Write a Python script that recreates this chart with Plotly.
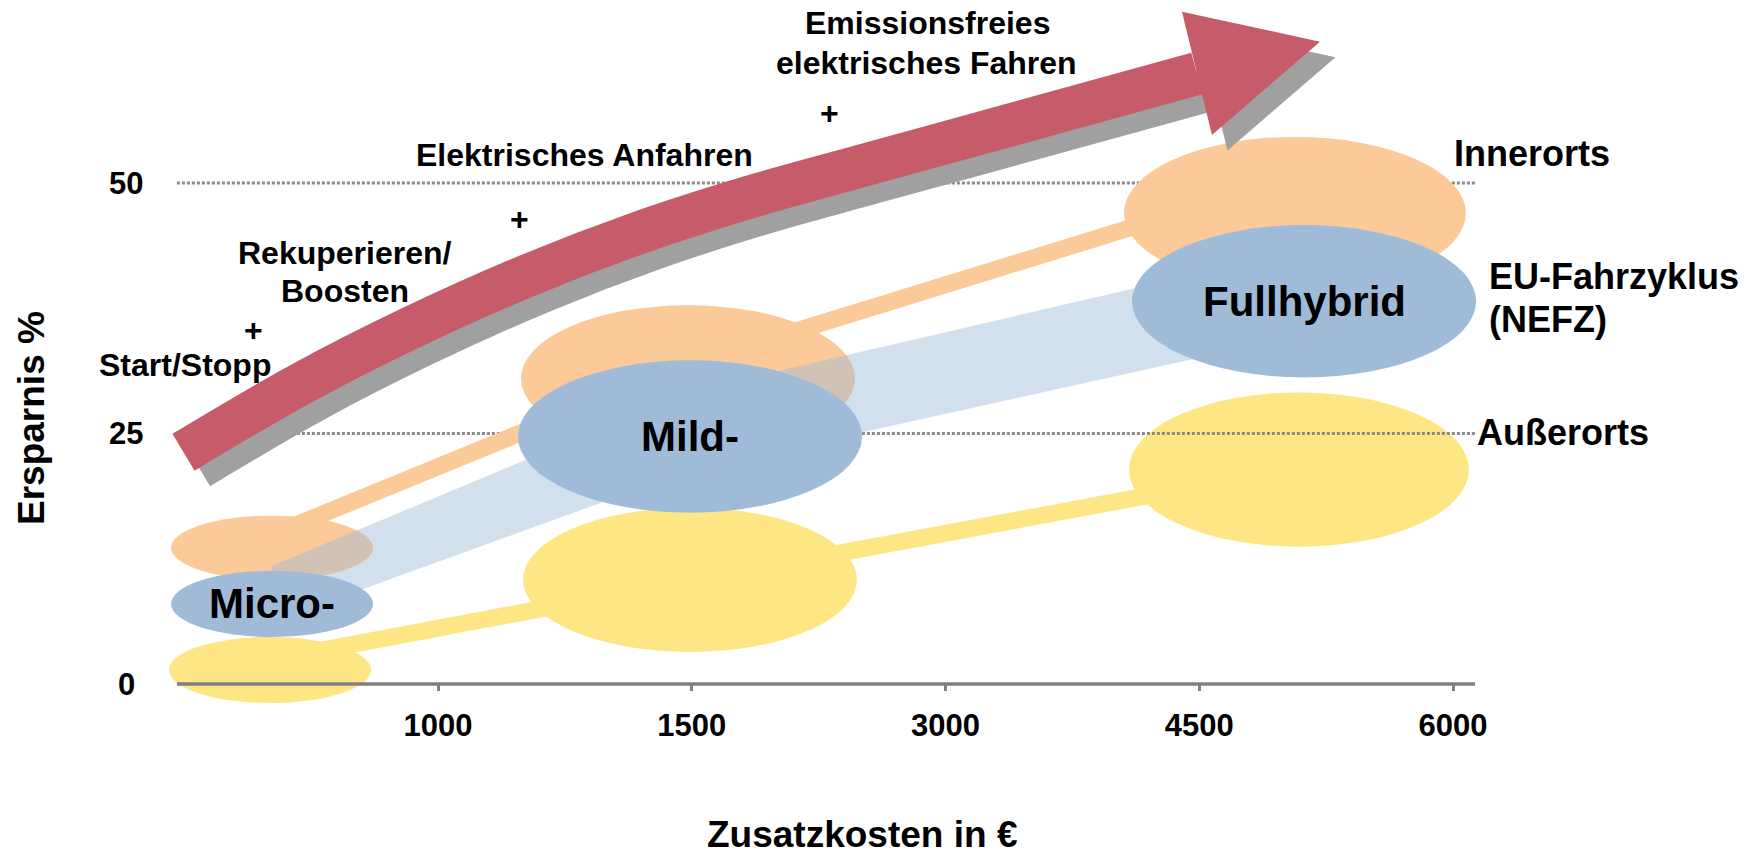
"""
Hybrid classes chart: savings vs. extra cost (Micro-, Mild-, Fullhybrid).
Single full-bleed subplot; the cost axis is drawn at y=0 with a free anchor.
"""

import plotly.graph_objects as go

# ── data ──────────────────────────────────────────────────────────────────────

COST_TICKS = [1, 2, 3, 4, 5]
COST_LABELS = ["1000", "1500", "3000", "4500", "6000"]
SAVING_TICKS = [0, 25, 50]
COST_AXIS_SPAN = [-0.029, 5.087]  # visible extent of the cost axis

HYBRID_CLASSES = ["Micro-", "Mild-", "Fullhybrid"]

# ellipse centres (x = cost axis position, y = Ersparnis %)
INNER_X = [0.346, 1.985, 4.377]
INNER_Y = [13.6, 30.5, 47.0]
EU_X = [0.346, 1.993, 4.413]
EU_Y = [8.0, 24.7, 38.2]
OUTER_X = [0.338, 1.993, 4.393]
OUTER_Y = [1.4, 10.4, 21.4]

# ellipse half-sizes (cost units / % units)
INNER_HW = [0.398, 0.658, 0.674]
INNER_HH = [3.2, 7.3, 7.6]
EU_HW = [0.398, 0.678, 0.678]
EU_HH = [3.3, 7.6, 7.6]
OUTER_HW = [0.398, 0.658, 0.670]
OUTER_HH = [3.3, 7.2, 7.7]

# links between the classes
INNER_LINK_Y = [14.9, 31.9, 50.6]
OUTER_LINK_Y = [2.4, 10.3, 21.6]
EU_BAND_TOP = [11.8, 29.2, 43.4]
EU_BAND_BOTTOM = [6.2, 21.3, 34.9]

# trend arrow (centre line + head)
ARROW_X = [-0.003, 0.456, 0.890, 1.355, 1.784, 2.237, 2.647, 3.333, 3.991]
ARROW_Y = [23.13, 29.91, 35.51, 40.79, 44.97, 48.67, 51.56, 56.33, 60.93]
ARROW_HEAD_X = [3.932, 4.476, 4.050]
ARROW_HEAD_Y = [67.1, 64.1, 54.8]

# ── style ─────────────────────────────────────────────────────────────────────

W, H = 1759, 854
X_RANGE = [-0.7261, 6.2059]
Y_RANGE = [-16.966, 68.263]

FONT = "Liberation Sans, Arial, sans-serif"
ORANGE = "#FCCA98"
BLUE = "#9FBBD8"
BAND = "rgba(159,187,216,0.47)"
YELLOW = "#FEE684"
RED = "#C65C69"
SHADOW = "#A0A0A0"
AXIS_GRAY = "#808080"
GRID_GRAY = "#8A8A8A"

LINK_WIDTH = 17
ARROW_WIDTH = 43
SHADOW_DX, SHADOW_DY = 0.061, -1.55  # ~15 px right / down


def _ellipse(cx, cy, hw, hh, color):
    return dict(
        type="circle", xref="x", yref="y", layer="below",
        x0=cx - hw, x1=cx + hw, y0=cy - hh, y1=cy + hh,
        fillcolor=color, line=dict(width=0),
    )


def _polyline(xs, ys, color):
    path = "M " + " L ".join(f"{x},{y}" for x, y in zip(xs, ys))
    return dict(
        type="path", xref="x", yref="y", layer="below", path=path,
        line=dict(color=color, width=LINK_WIDTH),
    )


def _text(fig, x, y, text, size, xanchor="center", angle=0):
    fig.add_annotation(
        x=x, y=y, xref="x", yref="y", text=text, showarrow=False,
        xanchor=xanchor, yanchor="middle", textangle=angle,
        font=dict(family=FONT, size=size, color="black", weight="bold"),
    )


shapes = []

# Außerorts (below the dotted grid lines)
shapes.append(_polyline(OUTER_X, OUTER_LINK_Y, YELLOW))
for cx, cy, hw, hh in zip(OUTER_X, OUTER_Y, OUTER_HW, OUTER_HH):
    shapes.append(_ellipse(cx, cy, hw, hh, YELLOW))

# dotted reference lines
for v in SAVING_TICKS[1:]:
    shapes.append(dict(
        type="line", xref="x", yref="y", layer="below",
        x0=COST_AXIS_SPAN[0], x1=COST_AXIS_SPAN[1], y0=v, y1=v,
        line=dict(color=GRID_GRAY, width=3.2, dash="3px,2px"),
    ))

# Innerorts
shapes.append(_polyline(INNER_X, INNER_LINK_Y, ORANGE))
for cx, cy, hw, hh in zip(INNER_X, INNER_Y, INNER_HW, INNER_HH):
    shapes.append(_ellipse(cx, cy, hw, hh, ORANGE))

# EU-Fahrzyklus band + ellipses
band_x = EU_X + EU_X[::-1]
band_y = EU_BAND_TOP + EU_BAND_BOTTOM[::-1]
band_path = "M " + " L ".join(f"{x},{y}" for x, y in zip(band_x, band_y)) + " Z"
shapes.append(dict(
    type="path", xref="x", yref="y", layer="below", path=band_path,
    fillcolor=BAND, line=dict(width=0),
))
for cx, cy, hw, hh in zip(EU_X, EU_Y, EU_HW, EU_HH):
    shapes.append(_ellipse(cx, cy, hw, hh, BLUE))

# cost axis line on top of everything
shapes.append(dict(
    type="line", xref="x", yref="y", layer="above",
    x0=COST_AXIS_SPAN[0], x1=COST_AXIS_SPAN[1], y0=0, y1=0,
    line=dict(color=AXIS_GRAY, width=3.6),
))

fig = go.Figure()

# arrow: shadow first, then the red arrow
for dx, dy, color in [(SHADOW_DX, SHADOW_DY, SHADOW), (0, 0, RED)]:
    fig.add_trace(go.Scatter(
        x=[x + dx for x in ARROW_X], y=[y + dy for y in ARROW_Y],
        mode="lines", line=dict(color=color, width=ARROW_WIDTH, shape="spline"),
        hoverinfo="skip",
    ))
    fig.add_trace(go.Scatter(
        x=[x + dx for x in ARROW_HEAD_X + ARROW_HEAD_X[:1]],
        y=[y + dy for y in ARROW_HEAD_Y + ARROW_HEAD_Y[:1]],
        mode="lines", fill="toself", fillcolor=color, line=dict(width=0),
        hoverinfo="skip",
    ))

# ── texts ─────────────────────────────────────────────────────────────────────

_text(fig, 2.931, 65.97, "Emissionsfreies", 32)
_text(fig, 2.927, 61.98, "elektrisches Fahren", 32)
_text(fig, 2.541, 56.99, "+", 32)
_text(fig, 1.579, 52.79, "Elektrisches Anfahren", 32)
_text(fig, 1.323, 46.41, "+", 32)
_text(fig, 0.634, 43.01, "Rekuperieren/", 32)
_text(fig, 0.634, 39.22, "Boosten", 32)
_text(fig, 0.271, 35.33, "+", 32)
_text(fig, 0.003, 31.84, "Start/Stopp", 32)

for name, x, y in zip(HYBRID_CLASSES, EU_X, EU_Y):
    _text(fig, x, y, name, 42)

_text(fig, 4.996, 52.99, "Innerorts", 36, xanchor="left")
_text(fig, 5.134, 40.62, "EU-Fahrzyklus", 36, xanchor="left")
_text(fig, 5.134, 36.33, "(NEFZ)", 36, xanchor="left")
_text(fig, 5.087, 25.15, "Außerorts", 36, xanchor="left")

for v in SAVING_TICKS:
    _text(fig, -0.228, v, str(v), 31)

_text(fig, 2.671, -14.97, "Zusatzkosten in €", 37)
_text(fig, -0.600, 26.55, "Ersparnis %", 37, angle=-90)

# ── layout ────────────────────────────────────────────────────────────────────

axis_pos = (0 - Y_RANGE[0]) / (Y_RANGE[1] - Y_RANGE[0])

fig.update_layout(
    width=W, height=H,
    margin=dict(l=0, r=0, t=0, b=0),
    paper_bgcolor="white", plot_bgcolor="white",
    showlegend=False,
    shapes=shapes,
    xaxis=dict(
        range=X_RANGE, domain=[0, 1], anchor="free", position=axis_pos,
        tickvals=COST_TICKS, ticktext=COST_LABELS,
        ticks="outside", ticklen=6, tickwidth=3, tickcolor=AXIS_GRAY,
        showgrid=False, zeroline=False, showline=False,
        tickfont=dict(family=FONT, size=31, color="black", weight="bold"),
        ticklabelstandoff=8, fixedrange=True,
    ),
    yaxis=dict(range=Y_RANGE, domain=[0, 1], visible=False, fixedrange=True),
)

fig.write_html(
    "out.html",
    config={"displayModeBar": False},
    post_script="document.body.style.margin='0';",
)
